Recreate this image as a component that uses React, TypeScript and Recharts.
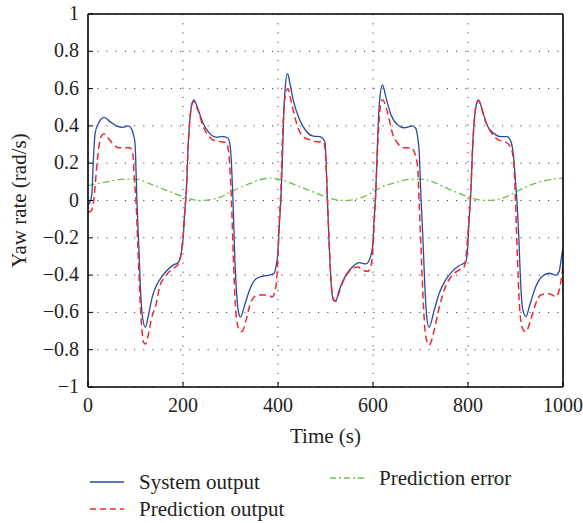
import React from 'react';
import { LineChart, Line, XAxis, YAxis, CartesianGrid } from 'recharts';

// time (s) and yaw rate (rad/s)
const sysTime = [0, 4, 8, 11, 15, 22, 34, 46, 60, 74, 84, 91, 96, 99, 103, 107, 111, 115, 121, 126, 130, 136, 145, 155, 168, 180, 189, 195,
    200, 204, 207, 211, 215, 219, 223, 232, 242, 256, 270, 284, 294, 299, 302, 305, 309, 313, 317, 321, 330, 340, 354, 368, 382, 392, 396, 399,
    403, 406, 409, 412, 415, 420, 425, 432, 446, 460, 474, 488, 495, 499, 501, 504, 508, 512, 516, 521, 529, 543, 557, 571, 585, 592, 599,
    602, 606, 610, 614, 620, 627, 638, 652, 666, 683, 690, 694, 697, 701, 705, 709, 713, 718, 729, 739, 753, 767, 781, 795, 799,
    802, 806, 810, 814, 818, 822, 830, 840, 854, 868, 882, 889, 893, 896, 900, 903, 907, 911, 915, 922, 929, 943, 957, 971, 985, 992, 997, 1000];
const sysValue = [-0.02, -0.01, 0.03, 0.2, 0.36, 0.414, 0.446, 0.423, 0.4, 0.392, 0.4, 0.387, 0.35, 0.307, 0.0, -0.25, -0.5, -0.63, -0.68, -0.63, -0.58, -0.51, -0.45, -0.41, -0.37, -0.345, -0.335, -0.3,
    -0.21, -0.05, 0.05, 0.3, 0.45, 0.52, 0.54, 0.487, 0.415, 0.36, 0.34, 0.342, 0.335, 0.3, 0.2, 0.02, -0.3, -0.5, -0.6, -0.625, -0.56, -0.48, -0.42, -0.405, -0.4, -0.39, -0.35, -0.3,
    -0.12, 0.0, 0.2, 0.45, 0.6, 0.68, 0.63, 0.54, 0.43, 0.37, 0.345, 0.342, 0.33, 0.31, 0.22, 0.0, -0.25, -0.45, -0.53, -0.54, -0.48, -0.4, -0.355, -0.333, -0.34, -0.32, -0.25,
    -0.12, 0.06, 0.35, 0.54, 0.62, 0.556, 0.458, 0.405, 0.39, 0.4, 0.387, 0.34, 0.27, 0.02, -0.2, -0.45, -0.62, -0.68, -0.587, -0.5, -0.426, -0.38, -0.35, -0.33, -0.265,
    -0.12, 0.05, 0.3, 0.45, 0.52, 0.54, 0.485, 0.405, 0.36, 0.342, 0.342, 0.324, 0.29, 0.235, 0.1, 0.0, -0.2, -0.45, -0.58, -0.623, -0.57, -0.46, -0.405, -0.39, -0.4, -0.38, -0.3, -0.255];

const predTime = [0, 5, 9, 12, 15, 19, 22, 29, 34, 43, 53, 64, 78, 88, 92, 95, 98, 101, 105, 109, 113, 117, 121, 126, 134, 144, 151, 162, 176, 189, 195,
    200, 204, 207, 211, 215, 219, 223, 232, 242, 256, 263, 280, 291, 295, 298, 302, 306, 310, 315, 320, 324, 333, 343, 357, 374, 388, 395,
    400, 403, 406, 409, 412, 416, 421, 426, 432, 442, 453, 467, 481, 495, 499, 502, 505, 509, 513, 517, 521, 529, 536, 550, 568, 578, 589, 596,
    600, 603, 606, 610, 614, 617, 620, 631, 641, 652, 666, 680, 687, 694, 697, 701, 705, 709, 714, 718, 729, 739, 753, 767, 781, 792, 799,
    802, 806, 810, 814, 818, 822, 836, 850, 864, 878, 889, 896, 900, 904, 908, 913, 918, 922, 932, 943, 953, 971, 985, 992, 999, 1000];
const predValue = [-0.06, -0.06, -0.04, 0.0, 0.08, 0.2, 0.27, 0.35, 0.357, 0.333, 0.303, 0.283, 0.283, 0.283, 0.27, 0.235, 0.1, 0.0, -0.25, -0.5, -0.68, -0.76, -0.77, -0.73, -0.63, -0.55, -0.46, -0.41, -0.37, -0.345, -0.3,
    -0.2, -0.05, 0.05, 0.3, 0.45, 0.52, 0.53, 0.48, 0.4, 0.34, 0.325, 0.315, 0.31, 0.28, 0.2, 0.0, -0.3, -0.55, -0.67, -0.7, -0.703, -0.64, -0.543, -0.507, -0.507, -0.516, -0.47,
    -0.3, -0.1, 0.05, 0.3, 0.48, 0.57, 0.6, 0.55, 0.485, 0.39, 0.342, 0.325, 0.315, 0.315, 0.28, 0.15, -0.05, -0.3, -0.47, -0.53, -0.54, -0.49, -0.44, -0.38, -0.357, -0.373, -0.38, -0.346,
    -0.25, -0.1, 0.05, 0.3, 0.47, 0.53, 0.54, 0.467, 0.36, 0.306, 0.283, 0.283, 0.26, 0.18, 0.0, -0.25, -0.5, -0.68, -0.76, -0.775, -0.694, -0.578, -0.46, -0.4, -0.373, -0.355, -0.21,
    -0.1, 0.05, 0.3, 0.45, 0.52, 0.535, 0.43, 0.36, 0.325, 0.315, 0.29, 0.217, 0.0, -0.3, -0.55, -0.67, -0.7, -0.703, -0.64, -0.55, -0.507, -0.5, -0.516, -0.48, -0.373, -0.35];

const errTime = [0, 20, 40, 60, 80, 100, 120, 140, 160, 180, 200, 220, 240, 260, 280, 300, 320, 340, 360, 380, 400, 420, 440, 460, 480, 500,
    520, 540, 560, 580, 600, 620, 640, 660, 680, 700, 720, 740, 760, 780, 800, 820, 840, 860, 880, 900, 920, 940, 960, 980, 1000];
const errValue = [0.08, 0.09, 0.1, 0.11, 0.115, 0.115, 0.1, 0.08, 0.06, 0.04, 0.02, 0.005, 0.0, 0.005, 0.02, 0.045, 0.07, 0.09, 0.11, 0.12, 0.115, 0.1, 0.08, 0.06, 0.04, 0.02,
    0.005, 0.0, 0.005, 0.02, 0.045, 0.075, 0.09, 0.105, 0.115, 0.115, 0.105, 0.085, 0.06, 0.04, 0.02, 0.005, 0.0, 0.005, 0.02, 0.045, 0.07, 0.09, 0.105, 0.115, 0.12];

const xTicks = [0, 200, 400, 600, 800, 1000];
const yTicks = [-1, -0.8, -0.6, -0.4, -0.2, 0, 0.2, 0.4, 0.6, 0.8, 1];

const systemData = sysTime.map((t, i) => ({ t, v: sysValue[i] }));
const predictionData = predTime.map((t, i) => ({ t, v: predValue[i] }));
const errorData = errTime.map((t, i) => ({ t, v: errValue[i] }));

const FONT = '"Liberation Serif", "DejaVu Serif", serif';
const INK = '#231f20';
const titleStyle = { fontFamily: FONT, fontSize: 21, fill: INK };
const frame = { stroke: '#000', strokeWidth: 1.6 };

const fmtY = (v: number) => (v < 0 ? '\u2212' + Math.abs(v) : String(v));

const XTick = (props: any) => (
    <text x={props.x} y={props.y + 18} textAnchor="middle" fontFamily={FONT} fontSize={20} fill={INK}>
        {props.payload.value}
    </text>
);

const YTick = (props: any) => (
    <text x={props.x} y={props.y + 6} textAnchor="end" fontFamily={FONT} fontSize={20} fill={INK}>
        {fmtY(props.payload.value)}
    </text>
);

const LegendItem = ({ left, top, label, color, dash }: { left: number, top: number, label: string, color: string, dash?: string }) => (
    <div style={{ position: 'absolute', left, top, height: 22, display: 'flex', alignItems: 'center', fontFamily: FONT, fontSize: 21, color: INK, whiteSpace: 'nowrap' }}>
        <svg width={34} height={6} style={{ marginRight: 15 }}>
            <line x1={0} y1={3} x2={34} y2={3} stroke={color} strokeWidth={1.4} strokeDasharray={dash} />
        </svg>
        <span>{label}</span>
    </div>
);

export default function App() {
    return (
        <div style={{ position: 'absolute', left: 0, top: 0, width: 583, height: 523, fontFamily: FONT }}>
            <LineChart width={583} height={523} margin={{ top: 13, right: 19, left: 0, bottom: 76 }}>
                <CartesianGrid stroke="#444" strokeDasharray="1.2 8" />
                <XAxis dataKey="t" type="number" domain={[0, 1000]} ticks={xTicks} allowDataOverflow
                    height={60} tickSize={-5} tickMargin={12} tick={<XTick />}
                    axisLine={frame} tickLine={{ stroke: '#000' }}
                    label={{ value: 'Time (s)', position: 'insideBottom', offset: 4, style: titleStyle }} />
                <XAxis xAxisId="top" orientation="top" dataKey="t" type="number" domain={[0, 1000]} ticks={xTicks}
                    height={1} tickSize={-5} tick={false} axisLine={frame} tickLine={{ stroke: '#000' }} />
                <YAxis type="number" domain={[-1, 1]} ticks={yTicks} width={88} allowDataOverflow
                    tickSize={-5} tickMargin={14} tick={<YTick />}
                    axisLine={frame} tickLine={{ stroke: '#000' }}
                    label={{ value: 'Yaw rate (rad/s)', angle: -90, position: 'insideLeft', offset: 19, style: { ...titleStyle, textAnchor: 'middle' } }} />
                <YAxis yAxisId="right" orientation="right" type="number" domain={[-1, 1]} ticks={yTicks} width={1}
                    tickSize={-5} tick={false} axisLine={frame} tickLine={{ stroke: '#000' }} />
                <Line data={errorData} dataKey="v" type="monotone" stroke="#6cc04a" strokeWidth={1.3} strokeDasharray="7 3 2 3" dot={false} isAnimationActive={false} />
                <Line data={systemData} dataKey="v" type="monotone" stroke="#2b4a9e" strokeWidth={1.3} dot={false} isAnimationActive={false} />
                <Line data={predictionData} dataKey="v" type="monotone" stroke="#f0282d" strokeWidth={1.5} strokeDasharray="7 4" dot={false} isAnimationActive={false} />
            </LineChart>
            <LegendItem left={90} top={471} label="System output" color="#2b4a9e" />
            <LegendItem left={90} top={498} label="Prediction output" color="#f0282d" dash="6 4" />
            <LegendItem left={330} top={467} label="Prediction error" color="#6cc04a" dash="6 3 2 3" />
        </div>
    );
}
